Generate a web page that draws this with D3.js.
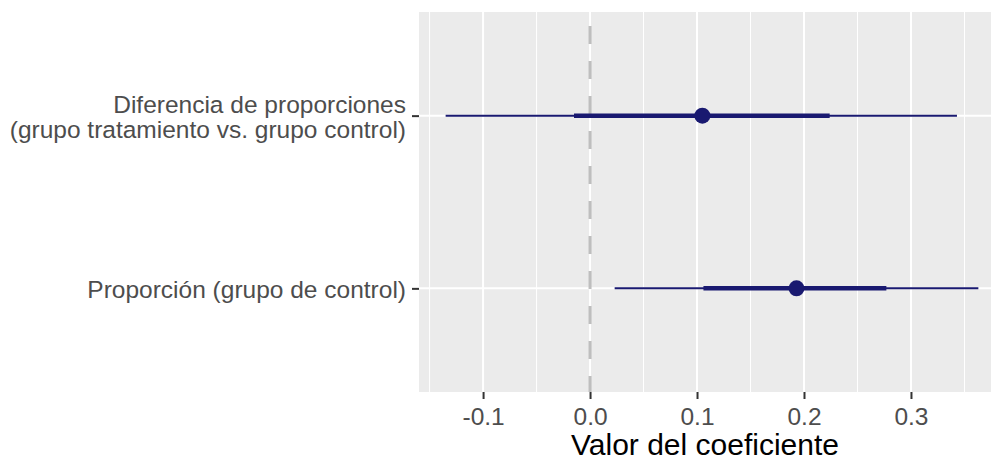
<!DOCTYPE html>
<html>
<head>
<meta charset="utf-8">
<script src="https://cdn.jsdelivr.net/npm/d3@7"></script>
<style>
  html, body { margin: 0; padding: 0; background: #ffffff; }
  svg { display: block; }
</style>
</head>
<body>
<svg id="chart" width="991" height="463"></svg>
<script>
// Coefficient terms, top to bottom; first label spans two lines
const terms = ["Diferencia de proporciones\n(grupo tratamiento vs. grupo control)", "Proporción (grupo de control)"];
// Point estimates
const estimates = [0.105, 0.193];
// Outer interval (thin line)
const outerLow = [-0.135, 0.023];
const outerHigh = [0.343, 0.363];
// Inner interval (thick line)
const innerLow = [-0.015, 0.106];
const innerHigh = [0.224, 0.277];
// Axis ticks
const majorTicks = [-0.1, 0.0, 0.1, 0.2, 0.3];
const minorTicks = [-0.15, -0.05, 0.05, 0.15, 0.25, 0.35];
const xTitle = "Valor del coeficiente";

const rows = terms.map((t, i) => ({
  term: t, est: estimates[i],
  lo: outerLow[i], hi: outerHigh[i],
  ilo: innerLow[i], ihi: innerHigh[i]
}));

const FONT = "'Liberation Sans', Arial, sans-serif";
const svg = d3.select("#chart");
const panel = { left: 419, top: 12, width: 586, height: 380 };

// x extent padded by 5% on each side
const dMin = d3.min(outerLow), dMax = d3.max(outerHigh);
const pad = (dMax - dMin) * 0.05;
const x = d3.scaleLinear()
  .domain([dMin - pad, dMax + pad])
  .range([panel.left, panel.left + panel.width]);

const y = d3.scalePoint()
  .domain(terms)
  .range([panel.top, panel.top + panel.height])
  .padding(0.6);

// Panel background
svg.append("rect")
  .attr("x", panel.left).attr("y", panel.top)
  .attr("width", panel.width).attr("height", panel.height)
  .attr("fill", "#EBEBEB");

const grid = svg.append("g");
grid.selectAll(".minor").data(minorTicks).join("line")
  .attr("x1", d => x(d)).attr("x2", d => x(d))
  .attr("y1", panel.top).attr("y2", panel.top + panel.height)
  .attr("stroke", "#ffffff").attr("stroke-width", 1);
grid.selectAll(".major").data(majorTicks).join("line")
  .attr("x1", d => x(d)).attr("x2", d => x(d))
  .attr("y1", panel.top).attr("y2", panel.top + panel.height)
  .attr("stroke", "#ffffff").attr("stroke-width", 2);
grid.selectAll(".hmajor").data(terms).join("line")
  .attr("x1", panel.left).attr("x2", panel.left + panel.width)
  .attr("y1", d => y(d)).attr("y2", d => y(d))
  .attr("stroke", "#ffffff").attr("stroke-width", 2);

// Reference line at zero
svg.append("line")
  .attr("x1", x(0)).attr("x2", x(0))
  .attr("y1", panel.top).attr("y2", panel.top + panel.height)
  .attr("stroke", "#BEBEBE").attr("stroke-width", 3)
  .attr("stroke-dasharray", "18,17")
  .attr("stroke-dashoffset", 21);

// Intervals and estimates
const marks = svg.append("g");
marks.selectAll(".outer").data(rows).join("line")
  .attr("x1", d => x(d.lo)).attr("x2", d => x(d.hi))
  .attr("y1", d => y(d.term)).attr("y2", d => y(d.term))
  .attr("stroke", "#191970").attr("stroke-width", 2);
marks.selectAll(".inner").data(rows).join("line")
  .attr("x1", d => x(d.ilo)).attr("x2", d => x(d.ihi))
  .attr("y1", d => y(d.term)).attr("y2", d => y(d.term))
  .attr("stroke", "#191970").attr("stroke-width", 4.5);
marks.selectAll("circle").data(rows).join("circle")
  .attr("cx", d => x(d.est)).attr("cy", d => y(d.term))
  .attr("r", 8).attr("fill", "#191970");

// x axis
const fmt = d3.format(".1f");
const xAxis = svg.append("g")
  .attr("transform", `translate(0,${panel.top + panel.height})`)
  .call(d3.axisBottom(x).tickValues(majorTicks)
    .tickFormat(d => fmt(d).replace("\u2212", "-"))
    .tickSize(7).tickPadding(9));
xAxis.select(".domain").remove();
xAxis.selectAll(".tick line").attr("stroke", "#333333").attr("stroke-width", 2);
xAxis.selectAll(".tick text")
  .attr("fill", "#4D4D4D")
  .style("font-family", FONT)
  .style("font-size", "24.5px");

// y axis
const yAxis = svg.append("g")
  .attr("transform", `translate(${panel.left},0)`)
  .call(d3.axisLeft(y).tickSize(7).tickFormat(""));
yAxis.select(".domain").remove();
yAxis.selectAll(".tick line").attr("stroke", "#333333").attr("stroke-width", 2);

// Multi-line category labels
const lineH = 25;
svg.append("g").selectAll("text").data(terms).join("text")
  .attr("text-anchor", "end")
  .attr("fill", "#4D4D4D")
  .style("font-family", FONT)
  .style("font-size", "24.5px")
  .each(function(d) {
    const lines = d.split("\n");
    const t = d3.select(this);
    const y0 = y(d) - (lines.length - 1) * lineH / 2 + 1;
    lines.forEach((ln, i) => {
      t.append("tspan")
        .attr("x", panel.left - 13)
        .attr("y", y0 + i * lineH)
        .attr("dy", "0.35em")
        .text(ln);
    });
  });

// x axis title, centred under the visible panel
svg.append("text")
  .attr("x", (panel.left + 991) / 2)
  .attr("y", 455)
  .attr("text-anchor", "middle")
  .attr("fill", "#000000")
  .style("font-family", FONT)
  .style("font-size", "30px")
  .text(xTitle);
</script>
</body>
</html>
